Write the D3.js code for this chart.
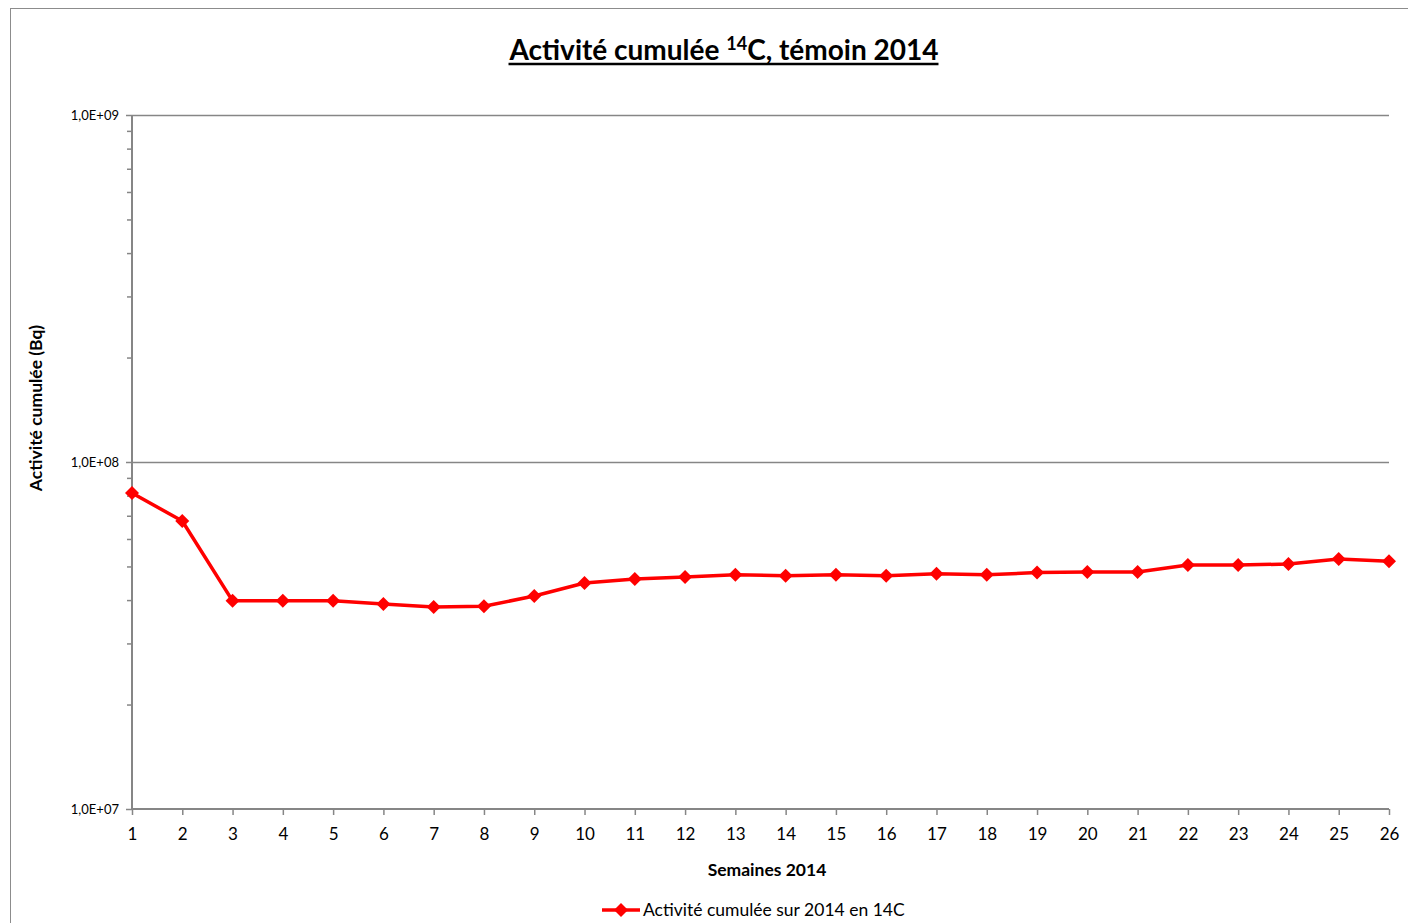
<!DOCTYPE html>
<html><head><meta charset="utf-8">
<script src="https://cdn.jsdelivr.net/npm/d3@7"></script>
<style>
html,body{margin:0;padding:0;background:#fff;}
svg{display:block;font-family:Lato,"Open Sans",sans-serif;}
</style></head>
<body>
<svg id="c" width="1408" height="923"></svg>
<script>
const weeks = [1,2,3,4,5,6,7,8,9,10,11,12,13,14,15,16,17,18,19,20,21,22,23,24,25,26];
const activity = [8.14e7,6.76e7,3.98e7,3.98e7,3.98e7,3.90e7,3.82e7,3.84e7,4.11e7,4.48e7,4.60e7,4.66e7,4.73e7,4.70e7,4.73e7,4.70e7,4.76e7,4.73e7,4.80e7,4.82e7,4.82e7,5.05e7,5.05e7,5.08e7,5.25e7,5.18e7];
const yMajorTicks = [1e7,1e8,1e9];
const yTickLabels = ["1,0E+07","1,0E+08","1,0E+09"];
const seriesName = "Activité cumulée sur 2014 en 14C";

const svg = d3.select("#c");
const L=132,R=1389,T=115,B=809;
const x = d3.scaleLinear().domain([1,26]).range([L,R]);
const y = d3.scaleLog().domain([1e7,1e9]).range([B,T]);
const axisCol="#868686";

// outer frame
svg.append("rect").attr("x",10.5).attr("y",8.5).attr("width",1420).attr("height",940)
  .attr("fill","none").attr("stroke","#8c8c8c").attr("stroke-width",1);

// title
const title = svg.append("text").attr("x",724).attr("y",60).attr("text-anchor","middle")
  .attr("font-size",28).attr("font-weight","bold").attr("fill","#000");
title.append("tspan").text("Activité cumulée ");
title.append("tspan").attr("dy",-10).attr("font-size",18).text("14");
title.append("tspan").attr("dy",10).text("C, témoin 2014");
const tb = title.node().getBBox();
svg.append("line").attr("x1",tb.x).attr("x2",tb.x+tb.width).attr("y1",64).attr("y2",64)
  .attr("stroke","#000").attr("stroke-width",2.5);

// gridlines
svg.append("g").selectAll("line").data(yMajorTicks.slice(1)).join("line")
  .attr("x1",L).attr("x2",R).attr("y1",d=>Math.round(y(d))+0.5).attr("y2",d=>Math.round(y(d))+0.5)
  .attr("stroke",axisCol).attr("stroke-width",1.5);

// y axis with minor ticks
const minor = [];
for (let e=7;e<9;e++) for (let m=2;m<=9;m++) minor.push(m*Math.pow(10,e));
const yAxisMinor = d3.axisLeft(y).tickValues(minor).tickSize(5).tickFormat("");
const gm = svg.append("g").attr("transform",`translate(${L},0)`).call(yAxisMinor);
gm.select(".domain").remove();
const yAxis = d3.axisLeft(y).tickValues(yMajorTicks).tickSize(6).tickPadding(7)
  .tickFormat((d,i)=>yTickLabels[i]);
const gy = svg.append("g").attr("transform",`translate(${L},0)`).call(yAxis);
gm.selectAll("line").attr("stroke",axisCol).attr("stroke-width",1.5);
gy.select(".domain").attr("stroke",axisCol).attr("stroke-width",2).attr("d",`M-0,${T}V${B}`);
gy.selectAll("line").attr("stroke",axisCol).attr("stroke-width",1.5);
gy.selectAll("text").attr("font-size",13).attr("fill","#000").attr("font-family","Lato,sans-serif");

// x axis
const xAxis = d3.axisBottom(x).tickValues(weeks).tickSize(6).tickPadding(13).tickFormat(d3.format("d"));
const gx = svg.append("g").attr("transform",`translate(0,${B})`).call(xAxis);
gx.select(".domain").attr("stroke",axisCol).attr("stroke-width",2).attr("d",`M${L},0H${R}`);
gx.selectAll("line").attr("stroke",axisCol).attr("stroke-width",1.5);
gx.selectAll("text").attr("font-size",17).attr("fill","#000").attr("font-family","Lato,sans-serif");

// axis titles
svg.append("text").attr("x",767).attr("y",876).attr("text-anchor","middle")
  .attr("font-size",17.5).attr("font-weight","bold").text("Semaines 2014");
svg.append("text").attr("transform",`translate(42,${408}) rotate(-90)`).attr("text-anchor","middle")
  .attr("font-size",17.5).attr("font-weight","bold").text("Activité cumulée (Bq)");

// line
const red="#ff0000";
const line = d3.line().x((d,i)=>x(weeks[i])).y(d=>y(d));
svg.append("path").datum(activity).attr("d",line).attr("fill","none")
  .attr("stroke",red).attr("stroke-width",3.5).attr("stroke-linejoin","round");
const diamond = d3.symbol().type(d3.symbolDiamond2).size(125);
svg.append("g").selectAll("path").data(activity).join("path")
  .attr("transform",(d,i)=>`translate(${x(weeks[i])},${y(d)})`)
  .attr("d",diamond).attr("fill",red);

// legend
const lg = svg.append("g");
lg.append("line").attr("x1",602).attr("x2",640).attr("y1",910).attr("y2",910)
  .attr("stroke",red).attr("stroke-width",3.5);
lg.append("path").attr("transform","translate(621,910)").attr("d",diamond).attr("fill",red);
lg.append("text").attr("x",643).attr("y",916).attr("font-size",17.5).attr("fill","#000").text(seriesName);
</script>
</body></html>
